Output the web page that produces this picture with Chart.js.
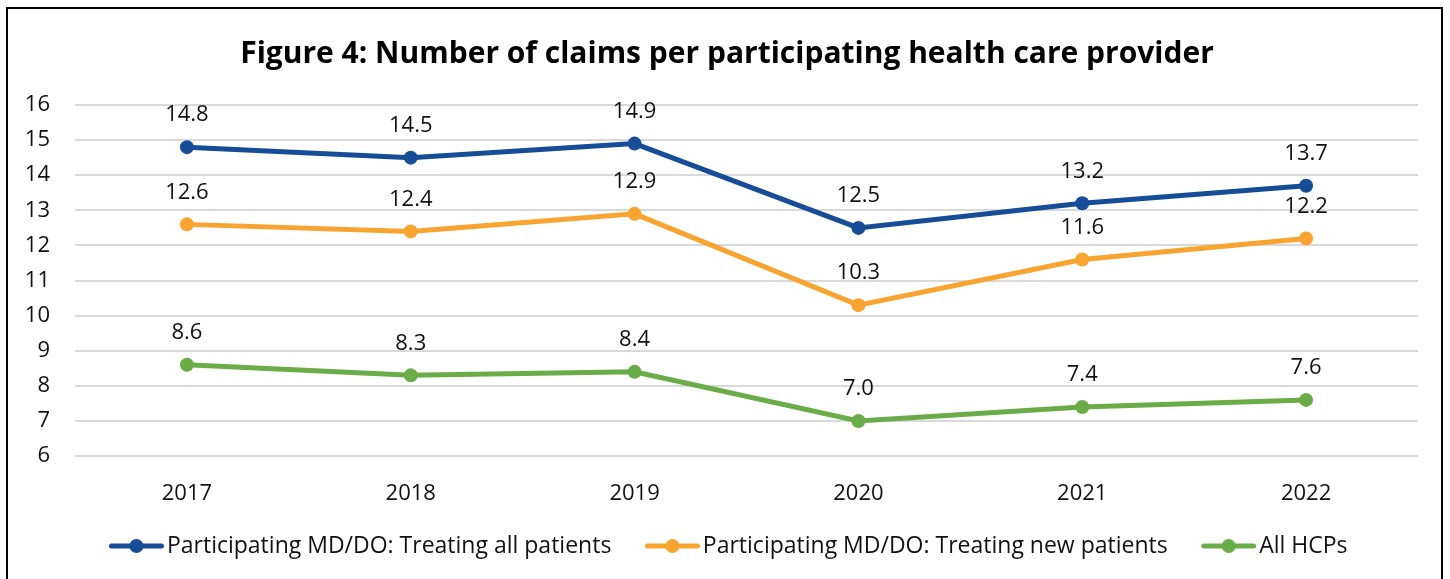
<!DOCTYPE html>
<html>
<head>
<meta charset="utf-8">
<script src="https://cdn.jsdelivr.net/npm/chart.js@4.4.1/dist/chart.umd.min.js"></script>
<style>
  html, body { margin: 0; padding: 0; background: #fff; }
  #wrap { position: relative; width: 1450px; height: 579px; overflow: hidden; }
  #frame { position: absolute; left: 6px; top: 7px; width: 1433px; height: 600px; border: 2px solid #000; pointer-events: none; }
  canvas { position: absolute; left: 0; top: 0; }
</style>
</head>
<body>
<div id="wrap">
  <canvas id="c" width="1450" height="579"></canvas>
  <div id="frame"></div>
</div>
<script>
const years = ['2017', '2018', '2019', '2020', '2021', '2022'];
const allPatients = [14.8, 14.5, 14.9, 12.5, 13.2, 13.7];
const newPatients = [12.6, 12.4, 12.9, 10.3, 11.6, 12.2];
const allHCPs = [8.6, 8.3, 8.4, 7.0, 7.4, 7.6];
const seriesNames = [
  'Participating MD/DO: Treating all patients',
  'Participating MD/DO: Treating new patients',
  'All HCPs'
];
const colors = ['#174C97', '#F9A330', '#6AAC47'];
const yTicks = [6, 7, 8, 9, 10, 11, 12, 13, 14, 15, 16];

const FONT = "'Open Sans', 'Noto Sans', sans-serif";

function legendIcon(color) {
  const c = document.createElement('canvas');
  c.width = 93; c.height = 16;
  const g = c.getContext('2d');
  g.strokeStyle = color; g.lineWidth = 5; g.lineCap = 'round';
  g.beginPath(); g.moveTo(40.5, 8); g.lineTo(90.5, 8); g.stroke();
  g.fillStyle = color;
  g.beginPath(); g.arc(65.5, 8, 7, 0, Math.PI * 2); g.fill();
  return c;
}

const dataLabels = {
  id: 'dataLabels',
  afterLayout(chart) {
    if (chart.legend) { chart.legend.left += 4.5; chart.legend.right += 4.5; }
    if (chart.titleBlock) { chart.titleBlock.left += 18; chart.titleBlock.right += 18; }
  },
  afterDatasetsDraw(chart) {
    const ctx = chart.ctx;
    ctx.save();
    ctx.font = '22px ' + FONT;
    ctx.fillStyle = '#111';
    ctx.textAlign = 'center';
    ctx.textBaseline = 'middle';
    chart.data.datasets.forEach((ds, i) => {
      const meta = chart.getDatasetMeta(i);
      meta.data.forEach((pt, j) => {
        ctx.fillText(ds.data[j].toFixed(1), pt.x, pt.y - 32);
      });
    });
    ctx.restore();
  }
};

const allSeries = [allPatients, newPatients, allHCPs];

new Chart(document.getElementById('c'), {
  type: 'line',
  data: {
    labels: years,
    datasets: allSeries.map((d, i) => ({
      label: seriesNames[i],
      data: d,
      borderColor: colors[i],
      backgroundColor: colors[i],
      borderWidth: 5,
      pointRadius: 7,
      pointHoverRadius: 7,
      pointBorderWidth: 0,
      pointStyle: 'circle',
      tension: 0,
      fill: false
    }))
  },
  options: {
    responsive: false,
    animation: false,
    events: [],
    layout: { padding: { left: 0, right: 32, top: 0, bottom: 11.5 } },
    plugins: {
      title: {
        display: true,
        text: 'Figure 4: Number of claims per participating health care provider',
        color: '#000',
        font: { family: FONT, size: 30, weight: 'bold', lineHeight: 1.2 },
        padding: { top: 36, bottom: 33 }
      },
      legend: {
        position: 'bottom',
        labels: {
          color: '#111',
          font: { family: FONT, size: 23 },
          usePointStyle: true,
          pointStyleWidth: 76,
          padding: 4,
          generateLabels(chart) {
            return chart.data.datasets.map((ds, i) => ({
              text: ds.label,
              fillStyle: colors[i],
              strokeStyle: colors[i],
              lineWidth: 0,
              pointStyle: legendIcon(colors[i]),
              datasetIndex: i,
              hidden: false,
              fontColor: '#111'
            }));
          }
        }
      },
      tooltip: { enabled: false }
    },
    scales: {
      x: {
        offset: true,
        grid: { display: false, drawTicks: false },
        border: { display: false },
        ticks: { color: '#111', font: { family: FONT, size: 22 }, padding: 24 }
      },
      y: {
        min: 6,
        max: 16,
        afterFit(scale) { scale.width = 75; },
        afterBuildTicks(scale) { scale.ticks = yTicks.map(v => ({ value: v })); },
        grid: { color: '#D9D9D9', lineWidth: 2, drawTicks: false },
        border: { display: false },
        ticks: { color: '#111', font: { family: FONT, size: 22 }, padding: 25, stepSize: 1 }
      }
    }
  },
  plugins: [dataLabels]
});
</script>
</body>
</html>
